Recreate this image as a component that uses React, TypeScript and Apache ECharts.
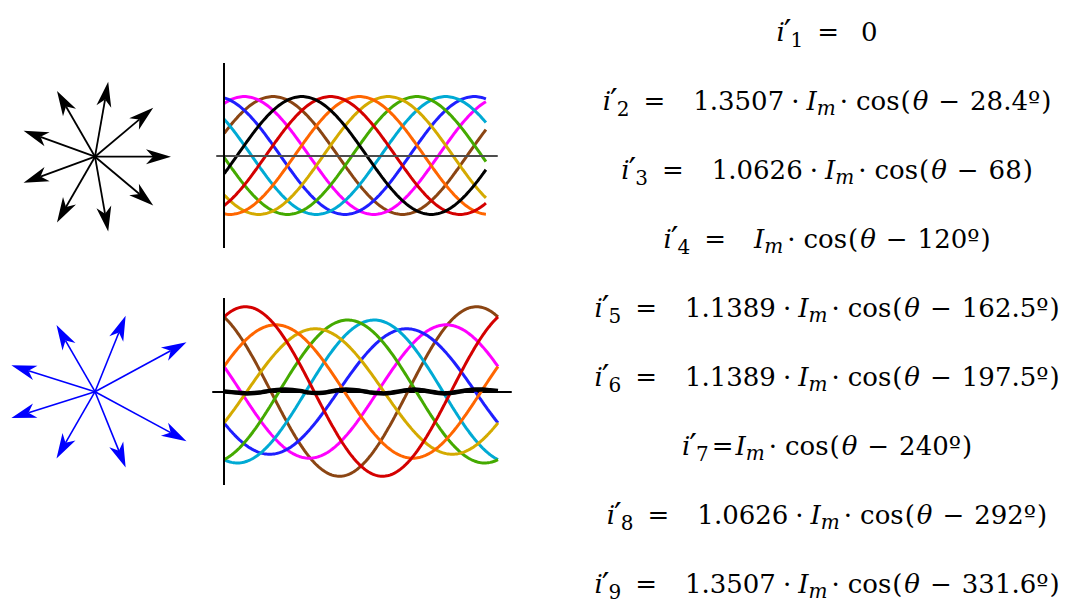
import React, { useEffect, useRef } from 'react';
import * as echarts from 'echarts';

// ---- data ----
const phaseNames = ['1', '2', '3', '4', '5', '6', '7', '8', '9'];
const phaseColors = ['#000000', '#d40000', '#ff6600', '#d4aa00', '#44aa00', '#00aad4', '#1f1fff', '#ff00ff', '#8b4513'];
// healthy machine: 9 balanced phases
const healthyAmp = [1, 1, 1, 1, 1, 1, 1, 1, 1];
const healthyPhase = [0, 40, 80, 120, 160, 200, 240, 280, 320];
// phase 1 open: post-fault currents
const faultAmp = [0, 1.3507, 1.0626, 1, 1.1389, 1.1389, 1, 1.0626, 1.3507];
const faultPhase = [0, 28.4, 68, 120, 162.5, 197.5, 240, 292, 331.6];
// equation labels
const coefLabels = ['', '1.3507', '1.0626', '', '1.1389', '1.1389', '', '1.0626', '1.3507'];
const angleLabels = ['', '28.4º', '68', '120º', '162.5º', '197.5º', '240º', '292º', '331.6º'];
// visible θ spans (degrees)
const topThetaSpan = [-108, 256];
const bottomThetaSpan = [0, 360];
// residual ripple of the open phase (black trace, bottom plot)
const rippleTheta = [0, 10, 20, 30, 40, 50, 60, 70, 80, 90, 100, 110, 120, 130, 140, 150, 160, 170, 180,
  190, 200, 210, 220, 230, 240, 250, 260, 270, 280, 290, 300, 310, 320, 330, 340, 350, 360];
const rippleValues = [0.0, -0.01, -0.02, -0.03, -0.025, -0.01, 0.01, 0.025, 0.03, 0.025, 0.01, -0.015, -0.025,
  -0.02, 0.0, 0.02, 0.03, 0.025, 0.01, -0.01, -0.025, -0.03, -0.02, 0.0, 0.02, 0.03, 0.02, 0.0, -0.02,
  -0.03, -0.02, 0.0, 0.02, 0.03, 0.03, 0.02, 0.01];

const DEG = Math.PI / 180;
const FONT = '"DejaVu Serif"';
const SIZE = 26;
const SUB = 20;
const PRIME = 34;

type Piece = { text: string; size: number; italic: boolean; dy: number; gap: number };

function eqPieces(k: number): Piece[] {
  const P: Piece[] = [];
  const rm = (text: string, gap = 0) => P.push({ text, size: SIZE, italic: false, dy: 0, gap });
  const it = (text: string, gap = 0) => P.push({ text, size: SIZE, italic: true, dy: 0, gap });
  it('i');
  P.push({ text: '′', size: PRIME, italic: false, dy: 3, gap: -1 });
  P.push({ text: phaseNames[k], size: SUB, italic: false, dy: 6, gap: -1 });
  const tight = k === 6;
  rm('=', tight ? 3 : 14);
  if (k === 0) {
    rm('0', 22);
    return P;
  }
  let g = tight ? 2 : 28;
  if (coefLabels[k]) {
    rm(coefLabels[k], g);
    rm('·', 7);
    g = 7;
  }
  it('I', g);
  P.push({ text: 'm', size: SUB, italic: true, dy: 5, gap: 0 });
  rm('·', 4);
  rm('cos', 8);
  rm('(', 1);
  it('θ', 2);
  rm('−', 10);
  rm(angleLabels[k], 10);
  rm(')', 1);
  return P;
}

function sampleWave(from: number, to: number, amp: number, ph: number) {
  const out: number[][] = [];
  for (let t = from; t <= to + 1e-9; t += 2) out.push([t, amp * Math.cos((t - ph) * DEG)]);
  return out;
}

function phasorSeries(gridAxis: number, amps: number[], phases: number[], color: string, lineW: number) {
  const data: number[][] = [];
  amps.forEach((a, i) => {
    if (a > 0) data.push([a * Math.cos(phases[i] * DEG), a * Math.sin(phases[i] * DEG)]);
  });
  return {
    type: 'custom',
    coordinateSystem: 'cartesian2d',
    xAxisIndex: gridAxis,
    yAxisIndex: gridAxis,
    silent: true,
    data,
    renderItem: (params: any, api: any) => {
      const o = api.coord([0, 0]);
      const t = api.coord([api.value(0), api.value(1)]);
      const dx = t[0] - o[0];
      const dy = t[1] - o[1];
      const L = Math.hypot(dx, dy);
      const ux = dx / L, uy = dy / L;
      const px = -uy, py = ux;
      const headL = 25, headW = 7.5, notch = 18;
      const b = [t[0] - ux * headL, t[1] - uy * headL];
      const n = [t[0] - ux * notch, t[1] - uy * notch];
      return {
        type: 'group',
        children: [
          { type: 'line', shape: { x1: o[0], y1: o[1], x2: n[0], y2: n[1] }, style: { stroke: color, lineWidth: lineW } },
          {
            type: 'polygon',
            shape: { points: [t, [b[0] + px * headW, b[1] + py * headW], n, [b[0] - px * headW, b[1] - py * headW]] },
            style: { fill: color },
          },
        ],
      };
    },
  };
}

export default function App() {
  const ref = useRef<HTMLDivElement>(null);
  useEffect(() => {
    const chart = echarts.init(ref.current!, undefined, { renderer: 'svg' });

    // --- equation texts ---
    const canvas = document.createElement('canvas');
    const ctx = canvas.getContext('2d')!;
    const graphics: any[] = [];
    const centerX = 827;
    for (let k = 0; k < 9; k++) {
      const baseline = 40.5 + 69.1 * k;
      const pieces = eqPieces(k);
      let x = 0;
      const placed: { p: Piece; x: number }[] = [];
      pieces.forEach((p) => {
        ctx.font = `${p.italic ? 'italic ' : ''}${p.size}px ${FONT}`;
        const w = ctx.measureText(p.text).width;
        x += p.gap;
        placed.push({ p, x });
        x += w;
      });
      const off = centerX - x / 2;
      placed.forEach(({ p, x: px }) => {
        graphics.push({
          type: 'text',
          x: off + px,
          y: baseline + p.dy - 0.346 * p.size,
          silent: true,
          style: {
            text: p.text,
            fontFamily: 'DejaVu Serif',
            fontSize: p.size,
            fontStyle: p.italic ? 'italic' : 'normal',
            fill: '#000',
            align: 'left',
            verticalAlign: 'middle',
          },
        });
      });
    }

    const hiddenAxis = (gridIndex: number, min: number, max: number) => ({
      type: 'value', gridIndex, min, max, show: false,
    });

    const series: any[] = [];
    series.push(phasorSeries(0, healthyAmp, healthyPhase, '#000000', 1.8));
    series.push(phasorSeries(2, faultAmp, faultPhase, '#0000ff', 1.6));

    // healthy waves (grid 1)
    const topOrder = [8, 7, 6, 5, 4, 3, 2, 1, 0];
    topOrder.forEach((i) => {
      series.push({
        type: 'line',
        xAxisIndex: 1,
        yAxisIndex: 1,
        name: 'i' + phaseNames[i],
        data: sampleWave(topThetaSpan[0], topThetaSpan[1], healthyAmp[i], healthyPhase[i]),
        showSymbol: false,
        silent: true,
        lineStyle: { color: phaseColors[i], width: 3 },
        z: 2,
        markLine: i === 0 ? {
          silent: true,
          symbol: ['none', 'none'],
          label: { show: false },
          lineStyle: { color: '#000', width: 2, type: 'solid' },
          data: [{ xAxis: topThetaSpan[0] }],
        } : undefined,
      });
    });

    // post-fault waves (grid 3)
    [8, 7, 6, 5, 4, 3, 2, 1].forEach((i) => {
      series.push({
        type: 'line',
        xAxisIndex: 3,
        yAxisIndex: 3,
        name: "i'" + phaseNames[i],
        data: sampleWave(bottomThetaSpan[0], bottomThetaSpan[1], faultAmp[i], faultPhase[i]),
        showSymbol: false,
        silent: true,
        lineStyle: { color: phaseColors[i], width: 3 },
        z: 2,
      });
    });
    series.push({
      type: 'line',
      xAxisIndex: 3,
      yAxisIndex: 3,
      name: "i'1",
      data: rippleTheta.map((t, j) => [t, rippleValues[j]]),
      showSymbol: false,
      smooth: true,
      silent: true,
      lineStyle: { color: '#000', width: 4.5 },
      z: 4,
      markLine: {
        silent: true,
        symbol: ['none', 'none'],
        label: { show: false },
        lineStyle: { color: '#000', width: 2, type: 'solid' },
        data: [{ xAxis: bottomThetaSpan[0] }],
      },
    });

    const waveX = (gridIndex: number, min: number, max: number, color: string, z: number) => ({
      type: 'value', gridIndex, min, max, z,
      axisLine: { show: true, onZero: true, lineStyle: { color, width: 2 } },
      axisTick: { show: false }, axisLabel: { show: false }, splitLine: { show: false },
    });
    const waveY = (gridIndex: number, min: number, max: number) => ({
      type: 'value', gridIndex, min, max,
      axisLine: { show: false }, axisTick: { show: false }, axisLabel: { show: false }, splitLine: { show: false },
    });

    chart.setOption({
      animation: false,
      backgroundColor: '#ffffff',
      grid: [
        { left: 3.8, top: 65.5, width: 182.4, height: 182.4 },
        { left: 217, top: 63, width: 280, height: 185 },
        { left: 2.6, top: 276.2, width: 207.9, height: 231 },
        { left: 213, top: 298, width: 298, height: 187 },
      ],
      xAxis: [
        hiddenAxis(0, -1.2, 1.2),
        waveX(1, -118, 271.4, '#4d4d4d', 3),
        hiddenAxis(2, -1.2, 1.5),
        waveX(3, -14.45, 377.1, '#000000', 0),
      ],
      yAxis: [
        hiddenAxis(0, -1.2, 1.2),
        waveY(1, -1.57, 1.57),
        hiddenAxis(2, -1.5, 1.5),
        waveY(3, -1.49, 1.49),
      ],
      series,
      graphic: graphics,
    });
    return () => chart.dispose();
  }, []);
  return (
    <div
      ref={ref}
      style={{ position: 'absolute', left: 0, top: 0, width: 1066, height: 604, background: '#fff' }}
    />
  );
}
